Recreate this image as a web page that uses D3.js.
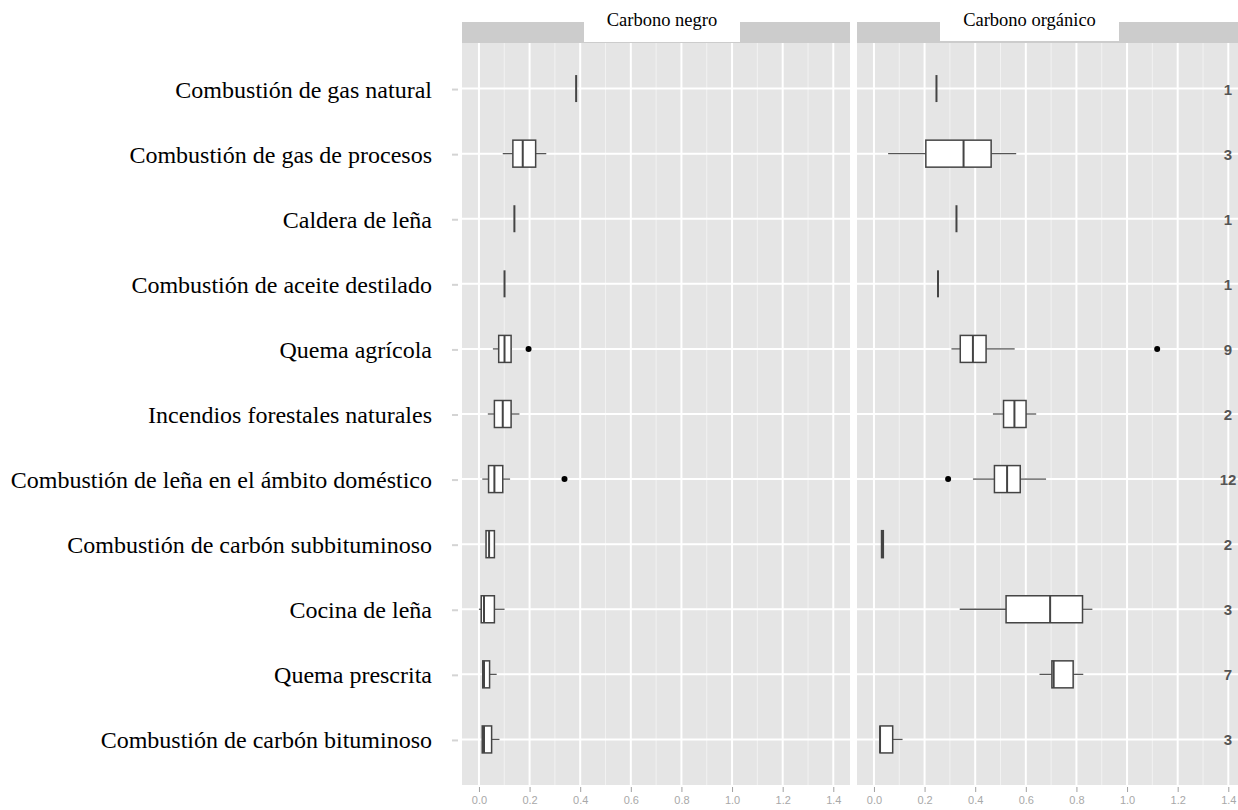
<!DOCTYPE html>
<html>
<head>
<meta charset="utf-8">
<script src="https://cdn.jsdelivr.net/npm/d3@7"></script>
<style>
    body { margin: 0; background: #ffffff; }
    svg { display: block; }
    .catLabel { font-family: "Liberation Serif", "Times New Roman", serif; font-size: 24px; fill: #000; }
    .stripTitle { font-family: "Liberation Serif", "Times New Roman", serif; font-size: 18.5px; fill: #000; }
    .countLabel { font-family: "Liberation Sans", Arial, sans-serif; font-size: 15px; font-weight: bold; fill: #555; }
    .axis text { font-family: "Liberation Sans", Arial, sans-serif; font-size: 11px; fill: #a8a8a8; }
    .axis line { stroke: #a0a0a0; }
    .axis path { display: none; }
</style>
</head>
<body>
<script>
(function(){

    //categories, top to bottom
    var categories = [
        "Combustión de gas natural",
        "Combustión de gas de procesos",
        "Caldera de leña",
        "Combustión de aceite destilado",
        "Quema agrícola",
        "Incendios forestales naturales",
        "Combustión de leña en el ámbito doméstico",
        "Combustión de carbón subbituminoso",
        "Cocina de leña",
        "Quema prescrita",
        "Combustión de carbón bituminoso"
    ];

    //panel titles
    var panelTitles = ["Carbono negro", "Carbono orgánico"];

    //box stats per category: [lower whisker, q1, median, q3, upper whisker]
    var blackBoxes = [
        [0.384, 0.384, 0.384, 0.384, 0.384],
        [0.094, 0.134, 0.173, 0.224, 0.266],
        [0.140, 0.140, 0.140, 0.140, 0.140],
        [0.101, 0.101, 0.101, 0.101, 0.101],
        [0.055, 0.078, 0.101, 0.127, 0.130],
        [0.035, 0.061, 0.094, 0.127, 0.160],
        [0.013, 0.038, 0.061, 0.094, 0.123],
        [0.028, 0.028, 0.040, 0.061, 0.061],
        [0.000, 0.009, 0.020, 0.061, 0.101],
        [0.012, 0.015, 0.020, 0.042, 0.070],
        [0.013, 0.013, 0.020, 0.050, 0.081]
    ];
    var organicBoxes = [
        [0.247, 0.247, 0.247, 0.247, 0.247],
        [0.056, 0.205, 0.354, 0.463, 0.562],
        [0.326, 0.326, 0.326, 0.326, 0.326],
        [0.253, 0.253, 0.253, 0.253, 0.253],
        [0.306, 0.341, 0.391, 0.443, 0.556],
        [0.470, 0.512, 0.555, 0.601, 0.641],
        [0.391, 0.476, 0.526, 0.578, 0.680],
        [0.030, 0.030, 0.034, 0.037, 0.037],
        [0.339, 0.522, 0.696, 0.824, 0.863],
        [0.654, 0.703, 0.710, 0.787, 0.827],
        [0.024, 0.024, 0.024, 0.074, 0.113]
    ];

    //outliers: [category index, value]
    var blackOutliers = [[4, 0.196], [6, 0.338]];
    var organicOutliers = [[4, 1.119], [6, 0.293]];

    //number of samples per category
    var counts = [1, 3, 1, 1, 9, 2, 12, 2, 3, 7, 3];

    //x tick values
    var xTicks = [0, 0.2, 0.4, 0.6, 0.8, 1.0, 1.2, 1.4];
    var xMinor = [0.1, 0.3, 0.5, 0.7, 0.9, 1.1, 1.3];

    //frame dimensions
    var width = 1238,
        height = 810,
        panelWidth = 388,
        panelTop = 43,
        panelBottom = 785,
        stripTop = 22,
        boxHeight = 27,
        panelLefts = [462, 857];

    var svg = d3.select("body")
        .append("svg")
        .attr("width", width)
        .attr("height", height);

    //shared scales
    var xScale = d3.scaleLinear()
        .domain([-0.067, 1.466])
        .range([0, panelWidth]);

    var yScale = d3.scalePoint()
        .domain(categories)
        .range([panelTop, panelBottom])
        .padding(0.7);

    //category labels
    svg.selectAll(".catLabel")
        .data(categories)
        .enter()
        .append("text")
        .attr("class", "catLabel")
        .attr("x", 432)
        .attr("y", function(d){ return yScale(d) + 9; })
        .attr("text-anchor", "end")
        .text(function(d){ return d; });

    //faint y tick marks left of the first panel
    svg.selectAll(".yTick")
        .data(categories)
        .enter()
        .append("line")
        .attr("class", "yTick")
        .attr("x1", 452)
        .attr("x2", 458)
        .attr("y1", function(d){ return yScale(d) + 1; })
        .attr("y2", function(d){ return yScale(d) + 1; })
        .style("stroke", "#d4d4d4")
        .style("stroke-width", 2);

    var panels = [
        {boxes: blackBoxes, outliers: blackOutliers},
        {boxes: organicBoxes, outliers: organicOutliers}
    ];

    panels.forEach(function(p, i){
        drawPanel(p, i);
    });

    //sample counts at right edge
    svg.selectAll(".countLabel")
        .data(counts)
        .enter()
        .append("text")
        .attr("class", "countLabel")
        .attr("x", 1228)
        .attr("y", function(d, i){ return yScale(categories[i]) + 6; })
        .attr("text-anchor", "middle")
        .text(function(d){ return d; });

    function drawPanel(p, i){
        var g = svg.append("g")
            .attr("transform", "translate(" + panelLefts[i] + ",0)");

        //panel background
        g.append("rect")
            .attr("y", panelTop)
            .attr("width", panelWidth)
            .attr("height", panelBottom - panelTop)
            .style("fill", "#e5e5e5");

        //minor grid
        g.selectAll(".minor")
            .data(xMinor)
            .enter()
            .append("line")
            .attr("x1", function(d){ return xScale(d); })
            .attr("x2", function(d){ return xScale(d); })
            .attr("y1", panelTop)
            .attr("y2", panelBottom)
            .style("stroke", "#f2f2f2")
            .style("stroke-width", 1);

        //major grid
        g.selectAll(".major")
            .data(xTicks)
            .enter()
            .append("line")
            .attr("x1", function(d){ return xScale(d); })
            .attr("x2", function(d){ return xScale(d); })
            .attr("y1", panelTop)
            .attr("y2", panelBottom)
            .style("stroke", "#ffffff")
            .style("stroke-width", 2);

        //horizontal grid
        g.selectAll(".hgrid")
            .data(categories)
            .enter()
            .append("line")
            .attr("x1", 0)
            .attr("x2", panelWidth)
            .attr("y1", function(d){ return yScale(d); })
            .attr("y2", function(d){ return yScale(d); })
            .style("stroke", "#ffffff")
            .style("stroke-width", 2);

        //strip
        g.append("rect")
            .attr("y", stripTop)
            .attr("width", panelWidth)
            .attr("height", panelTop - stripTop)
            .style("fill", "#cccccc");

        //boxes
        var box = g.selectAll(".box")
            .data(p.boxes)
            .enter()
            .append("g")
            .attr("class", "box")
            .attr("transform", function(d, j){ return "translate(0," + yScale(categories[j]) + ")"; });

        box.append("line")
            .attr("x1", function(d){ return xScale(d[0]); })
            .attr("x2", function(d){ return xScale(d[1]); })
            .style("stroke", "#555")
            .style("stroke-width", 1.3);

        box.append("line")
            .attr("x1", function(d){ return xScale(d[3]); })
            .attr("x2", function(d){ return xScale(d[4]); })
            .style("stroke", "#555")
            .style("stroke-width", 1.3);

        box.append("rect")
            .attr("x", function(d){ return xScale(d[1]); })
            .attr("y", -boxHeight / 2)
            .attr("width", function(d){ return xScale(d[3]) - xScale(d[1]); })
            .attr("height", boxHeight)
            .style("fill", "#ffffff")
            .style("stroke", "#444")
            .style("stroke-width", 1.5);

        box.append("line")
            .attr("x1", function(d){ return xScale(d[2]); })
            .attr("x2", function(d){ return xScale(d[2]); })
            .attr("y1", -boxHeight / 2)
            .attr("y2", boxHeight / 2)
            .style("stroke", "#444")
            .style("stroke-width", 2);

        //outliers
        g.selectAll(".outlier")
            .data(p.outliers)
            .enter()
            .append("circle")
            .attr("cx", function(d){ return xScale(d[1]); })
            .attr("cy", function(d){ return yScale(categories[d[0]]); })
            .attr("r", 3)
            .style("fill", "#000");

        //x axis
        var xAxis = d3.axisBottom(xScale)
            .tickValues(xTicks)
            .tickSize(5)
            .tickPadding(4)
            .tickFormat(d3.format(".1f"));

        g.append("g")
            .attr("class", "axis")
            .attr("transform", "translate(0," + (panelBottom + 2) + ")")
            .call(xAxis);

        //title box over the strip
        var titleBox = i === 0 ? [584, 740, 42] : [940, 1119, 41];
        svg.append("rect")
            .attr("x", titleBox[0])
            .attr("y", 0)
            .attr("width", titleBox[1] - titleBox[0])
            .attr("height", titleBox[2])
            .style("fill", "#ffffff");

        svg.append("text")
            .attr("class", "stripTitle")
            .attr("x", (titleBox[0] + titleBox[1]) / 2)
            .attr("y", 26)
            .attr("text-anchor", "middle")
            .text(panelTitles[i]);
    };

})();
</script>
</body>
</html>
